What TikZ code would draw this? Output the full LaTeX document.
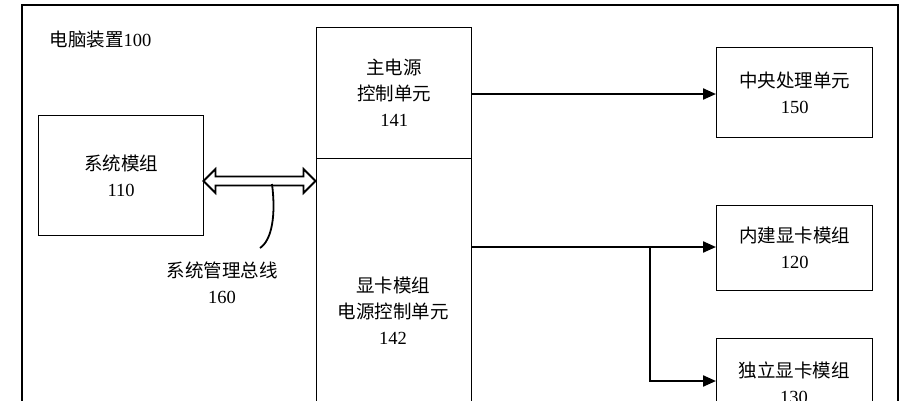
\documentclass[tikz,border=0pt]{standalone}
\usepackage{fontspec}
\setmainfont{Liberation Serif}
\newfontfamily\cjk{Noto Sans CJK SC}
\usetikzlibrary{arrows.meta,shapes.arrows}
\begin{document}
\begin{tikzpicture}[x=1pt,y=-1pt,
  box/.style={draw,line width=1.3pt,anchor=north west,inner sep=0},
  lbl/.style={align=center,font=\fontsize{18.5}{26}\selectfont\cjk},
  arr/.style={line width=2.2pt,-{Triangle[length=13pt,width=11pt]}}]
\useasboundingbox (0,0) rectangle (922,400);
\begin{scope}
\clip (0,0) rectangle (922,400);
\draw[line width=1.3pt] (22,5) rectangle (898,420);
\node[box,minimum width=165,minimum height=120] (sys) at (38,115) {};
\node[box,minimum width=155,minimum height=131] (mp) at (316,27) {};
\node[box,minimum width=155,minimum height=262] (gp) at (316,158) {};
\node[box,minimum width=156,minimum height=90] (cpu) at (716,47) {};
\node[box,minimum width=156,minimum height=85] (ig) at (716,205) {};
\node[box,minimum width=156,minimum height=80] (dg) at (716,338) {};
\end{scope}
\node[lbl,anchor=west] (title) at (46,40) {电脑装置{\rmfamily 100}};
\node[lbl] at (sys.center) {系统模组\\{\rmfamily 110}};
\node[lbl] at (mp.center) {主电源\\控制单元\\{\rmfamily 141}};
\node[lbl] at (393,311) {显卡模组\\电源控制单元\\{\rmfamily 142}};
\node[lbl] at (cpu.center) {中央处理单元\\{\rmfamily 150}};
\node[lbl] at (ig.center) {内建显卡模组\\{\rmfamily 120}};
\node[lbl] at (794,383) {独立显卡模组\\{\rmfamily 130}};
\node[lbl] (bus) at (222,283) {系统管理总线\\{\rmfamily 160}};
\node[double arrow,draw,line width=1.8pt,fill=white,minimum height=112pt,minimum width=24pt,
  double arrow head extend=4pt,inner sep=1.5pt] (da) at (259.5,181) {};
\coordinate (ca) at (272,184);
\coordinate (cb) at (260,248);
\draw[line width=1.8pt] (ca) .. controls (276,215) and (272,240) .. (cb);
\coordinate (m1) at (471,94);
\draw[arr] (m1) -- (cpu.west|-m1);
\coordinate (g1) at (471,247);
\coordinate (br) at (650,247);
\coordinate (br2) at (650,381);
\draw[arr] (g1) -- (ig.west|-g1);
\draw[arr] (br) -- (br2) -- (dg.west|-br2);
\end{tikzpicture}
\end{document}
